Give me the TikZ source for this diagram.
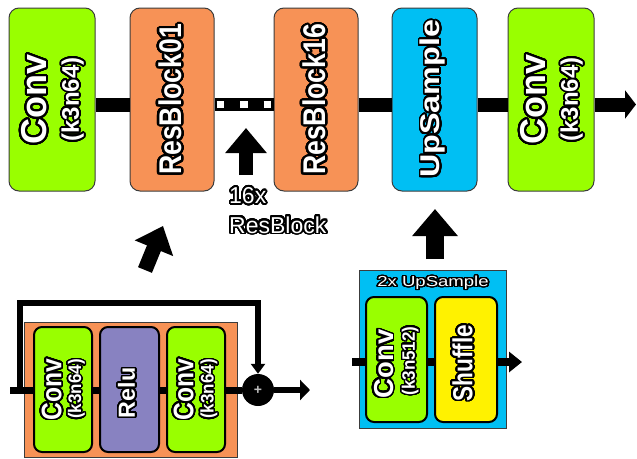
\documentclass[tikz,border=0pt]{standalone}
\usepackage{fontspec}
\setmainfont{Liberation Sans}
\usepackage[copies]{contour}
\usetikzlibrary{arrows.meta}
\contournumber{48}
\definecolor{cgreen}{RGB}{153,255,0}
\definecolor{corange}{RGB}{247,146,86}
\definecolor{ccyan}{RGB}{0,191,243}
\definecolor{cyellow}{RGB}{255,242,0}
\definecolor{cpurple}{RGB}{136,130,193}
\definecolor{boxgray}{RGB}{60,60,60}
\newcommand\olt[2][2pt]{\contourlength{#1}\contour{black}{#2}}
\tikzset{
  topbox/.style={draw=boxgray, line width=1pt, rounded corners=10pt, inner sep=0pt, minimum height=183pt},
  inbox/.style={draw=black, line width=2pt, rounded corners=8pt, inner sep=0pt, minimum height=125pt},
  frame/.style={draw=boxgray, line width=0.8pt, inner sep=0pt},
  vlbl/.style={text=white, inner sep=0pt, rotate=90},
  hlbl/.style={text=white, inner sep=0pt},
  bar/.style={line width=14pt},
}
\begin{document}
\begin{tikzpicture}[x=1pt,y=-1pt]
\useasboundingbox (0,0) rectangle (637,458);
% ---------- top row ----------
\node[topbox, fill=cgreen, minimum width=86pt] (c1) at (52,99.5) {};
\node[topbox, fill=corange, minimum width=84pt] (r1) at (172,99.5) {};
\node[topbox, fill=corange, minimum width=84pt] (r16) at (316,99.5) {};
\node[topbox, fill=ccyan, minimum width=85pt] (up) at (434.5,99.5) {};
\node[topbox, fill=cgreen, minimum width=86pt] (c2) at (551,99.5) {};
\node[vlbl, font=\bfseries\fontsize{36}{36}\selectfont] (c1a) at (35,99.5) {\olt{Conv}};
\node[vlbl, font=\bfseries\fontsize{24}{24}\selectfont] (c1b) at (73.5,99.5) {\olt[1.6pt]{(k3n64)}};
\node[vlbl, yscale=1.18, font=\bfseries\fontsize{26.6}{26.6}\selectfont] (r1a) at (171,99.5) {\olt{ResBlock01}};
\node[vlbl, yscale=1.18, font=\bfseries\fontsize{26.6}{26.6}\selectfont] (r16a) at (315,99.5) {\olt{ResBlock16}};
\node[vlbl, yscale=0.84, font=\bfseries\fontsize{32.3}{32.3}\selectfont] (upa) at (433.5,99) {\olt{UpSample}};
\node[vlbl, font=\bfseries\fontsize{36}{36}\selectfont] (c2a) at (534,99.5) {\olt{Conv}};
\node[vlbl, font=\bfseries\fontsize{24}{24}\selectfont] (c2b) at (572.5,99.5) {\olt[1.6pt]{(k3n64)}};
\draw[bar] ([yshift=-5pt]c1.east) -- ([yshift=-5pt]r1.west);
\draw[line width=13pt] ([yshift=-5pt]r1.east) -- ([yshift=-5pt]r16.west);
\draw[white, line width=7pt, dash pattern=on 7.5pt off 16pt, dash phase=21.5pt] ([yshift=-5pt]r1.east) -- ([yshift=-5pt]r16.west);
\draw[bar] ([yshift=-5pt]r16.east) -- ([yshift=-5pt]up.west);
\draw[bar] ([yshift=-5pt]up.east) -- ([yshift=-5pt]c2.west);
\coordinate (outR) at (636,104.5);
\draw[bar, -{Triangle[length=11pt,width=28pt]}] ([yshift=-5pt]c2.east) -- (outR);
% ---------- arrows ----------
\coordinate (u1s) at (246,175);
\coordinate (u1e) at (246,128);
\draw[line width=14pt, -{Triangle[length=25pt,width=40pt]}] (u1s) -- (u1e);
\node[hlbl, anchor=base west, font=\fontsize{23}{30}\selectfont] (lab16a) at (229,203.5) {\olt[1.8pt]{16x}};
\node[hlbl, anchor=base west, font=\fontsize{23}{30}\selectfont] (lab16b) at (229,233) {\olt[1.8pt]{ResBlock}};
\coordinate (d1s) at (145,270);
\coordinate (d1e) at (163,226);
\draw[line width=15pt, -{Triangle[length=24pt,width=40pt]}] (d1s) -- (d1e);
\coordinate (u2s) at (435,259);
\coordinate (u2e) at (435,209);
\draw[line width=18pt, -{Triangle[length=27pt,width=44pt]}] (u2s) -- (u2e);
% ---------- ResBlock inset ----------
\node[frame, fill=corange, minimum width=213pt, minimum height=135pt] (rbi) at (130.5,389.5) {};
\node[circle, fill=black, minimum size=32pt, inner sep=0pt, text=white!75!black, font=\bfseries\fontsize{14}{14}\selectfont] (plus) at (258,390) {+};
\coordinate (rin) at (10,390);
\draw[line width=7pt] (rin) -- (plus.west);
\node[inbox, fill=cgreen, minimum width=58pt] (ca) at (63,389.5) {};
\node[inbox, fill=cpurple, minimum width=59pt] (relu) at (129.5,389.5) {};
\node[inbox, fill=cgreen, minimum width=58pt] (cb) at (196,389.5) {};
\node[vlbl, yscale=1.15, font=\bfseries\fontsize{24.6}{24.6}\selectfont] (caa) at (52.5,389.5) {\olt[1.6pt]{Conv}};
\node[vlbl, yscale=1.07, font=\bfseries\fontsize{17}{17}\selectfont] (cab) at (77,389) {\olt[1.3pt]{(k3n64)}};
\node[vlbl, font=\bfseries\fontsize{23.3}{23.3}\selectfont] (relua) at (127.5,393) {\olt[1.7pt]{Relu}};
\node[vlbl, yscale=1.15, font=\bfseries\fontsize{24.6}{24.6}\selectfont] (cba) at (184.5,389.5) {\olt[1.6pt]{Conv}};
\node[vlbl, yscale=1.07, font=\bfseries\fontsize{17}{17}\selectfont] (cbb) at (209.5,389) {\olt[1.3pt]{(k3n64)}};
\coordinate (rout) at (310,390);
\draw[line width=6pt, -{Triangle[length=10pt,width=20pt]}] (plus.east) -- (rout);
\coordinate (sk0) at (20,390);
\coordinate (sktop) at (20,303);
\draw[line width=6pt, -{Triangle[length=10pt,width=14pt]}] (sk0) -- (sktop) -| (plus.north);
% ---------- UpSample inset ----------
\node[frame, fill=ccyan, minimum width=147pt, minimum height=158pt] (usi) at (432.5,349) {};
\node[hlbl, xscale=1.28, font=\fontsize{14.5}{14.5}\selectfont] (ust) at (433,283.5) {\olt[1.2pt]{2x UpSample}};
\coordinate (uin) at (352,362);
\coordinate (uout) at (522,362);
\draw[line width=8pt, -{Triangle[length=13pt,width=20pt]}] (uin) -- (uout);
\node[inbox, fill=cgreen, minimum width=61pt] (uc) at (396.5,359.5) {};
\node[inbox, fill=cyellow, minimum width=62pt] (us) at (466,359.5) {};
\node[vlbl, font=\bfseries\fontsize{27.4}{27.4}\selectfont] (uca) at (384.5,364) {\olt[1.7pt]{Conv}};
\node[vlbl, yscale=1.06, font=\bfseries\fontsize{17}{17}\selectfont] (ucb) at (411,361) {\olt[1.3pt]{(k3n512)}};
\node[vlbl, yscale=1.22, font=\bfseries\fontsize{22.6}{22.6}\selectfont] (usa) at (463.5,363) {\olt[1.6pt]{Shuffle}};
\end{tikzpicture}
\end{document}
